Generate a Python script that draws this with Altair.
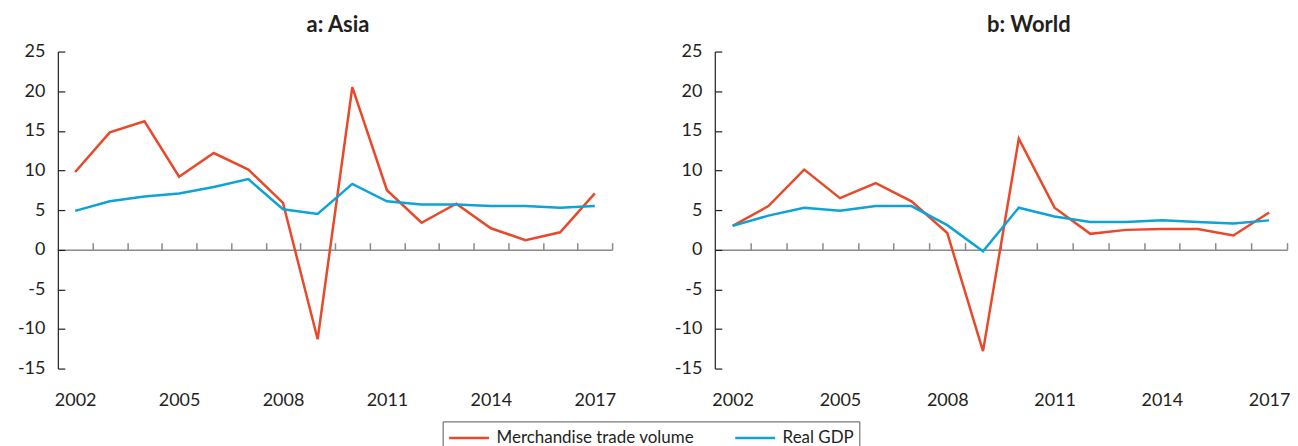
import altair as alt
import pandas as pd

years = list(range(2002, 2018))
asia_trade = [9.8, 14.8, 16.2, 9.2, 12.2, 10.1, 5.9, -11.3, 20.5, 7.5, 3.4, 5.8, 2.7, 1.2, 2.2, 7.1]
asia_gdp = [4.9, 6.1, 6.7, 7.1, 7.9, 8.9, 5.1, 4.5, 8.3, 6.1, 5.7, 5.7, 5.5, 5.5, 5.3, 5.5]
world_trade = [3.0, 5.5, 10.1, 6.5, 8.4, 6.1, 2.1, -12.8, 14.0, 5.3, 2.0, 2.5, 2.6, 2.6, 1.8, 4.7]
world_gdp = [3.0, 4.3, 5.3, 4.9, 5.5, 5.5, 3.1, -0.2, 5.3, 4.2, 3.5, 3.5, 3.7, 3.5, 3.3, 3.7]
series_names = ["Merchandise trade volume", "Real GDP"]
colors = ["#E8492A", "#0DA3D6"]
x_label_years = [2002, 2005, 2008, 2011, 2014, 2017]
x_tick_positions = [y + 0.5 for y in years]
y_ticks = [-15, -10, -5, 0, 5, 10, 15, 20, 25]

FONT = "Lato"
DARK = "#231f20"
H = 318
Y_MIN, Y_MAX = -15, 25


def panel(title, trade, gdp, W, title_dx):
    df = pd.DataFrame({
        "year": years * 2,
        "value": trade + gdp,
        "series": [series_names[0]] * len(years) + [series_names[1]] * len(years),
    })
    zero_y = H * Y_MAX / (Y_MAX - Y_MIN)
    xs = alt.Scale(domain=[2001.5, 2017.5], nice=False, zero=False)
    ys = alt.Scale(domain=[Y_MIN, Y_MAX], nice=False, zero=False)
    color = alt.Color(
        "series:N",
        scale=alt.Scale(domain=series_names, range=colors),
        legend=alt.Legend(title=None),
    )
    lines = alt.Chart(df).mark_line(strokeWidth=2.5).encode(
        x=alt.X("year:Q", scale=xs, axis=alt.Axis(
            orient="bottom", values=x_label_years, format="d", ticks=False,
            domain=False, grid=False, labelPadding=23, title=None)),
        y=alt.Y("value:Q", scale=ys, axis=alt.Axis(
            orient="left", values=y_ticks, ticks=False, domain=True,
            domainColor=DARK, domainWidth=1.2, grid=False, labelPadding=13,
            labelExpr="'' + datum.value", minExtent=40, maxExtent=40, title=None)),
        color=color,
    )
    frame = alt.Chart(df).mark_line(opacity=0).encode(
        x=alt.X("year:Q", scale=xs, axis=alt.Axis(
            orient="top", offset=-zero_y, values=x_tick_positions, labels=False,
            ticks=True, tickSize=7, domain=True, domainColor="#8a8a8a",
            tickColor="#8a8a8a", domainWidth=1.5, tickWidth=1.5, grid=False,
            title=None, minExtent=0, maxExtent=0)),
        y=alt.Y("value:Q", scale=ys, axis=alt.Axis(
            orient="right", offset=-W, values=y_ticks, labels=False,
            ticks=True, tickSize=7, tickColor=DARK, tickWidth=1.2, domain=False,
            grid=False, title=None, minExtent=0, maxExtent=0)),
    )
    return alt.layer(lines, frame).resolve_axis(x="independent", y="independent").properties(
        width=W, height=H,
        title=alt.TitleParams(title, fontSize=22, fontWeight="bold", font=FONT,
                              color=DARK, anchor="middle", offset=6, dx=title_dx),
    )


left = panel("a: Asia", asia_trade, asia_gdp, 556, 3)
right = panel("b: World", world_trade, world_gdp, 574, 28)

chart = alt.hconcat(left, right, spacing=103, bounds="flush").properties(
    padding={"left": 9, "top": 5, "right": 0, "bottom": 0}
).configure_view(stroke=None).configure_axis(
    labelFont=FONT, labelFontSize=18, labelColor=DARK,
).configure_legend(
    orient="none", legendX=386, legendY=371, direction="horizontal",
    strokeColor="#555555", strokeWidth=1, padding=5,
    symbolType="M-2,0H2", symbolSize=400, symbolOffset=10,
    symbolStrokeWidth=2.5,
    labelFont=FONT, labelFontSize=17, labelColor=DARK, labelOffset=16,
    labelLimit=400, columnPadding=35,
)

chart.save("out.html", embed_options={"renderer": "svg", "actions": False})
